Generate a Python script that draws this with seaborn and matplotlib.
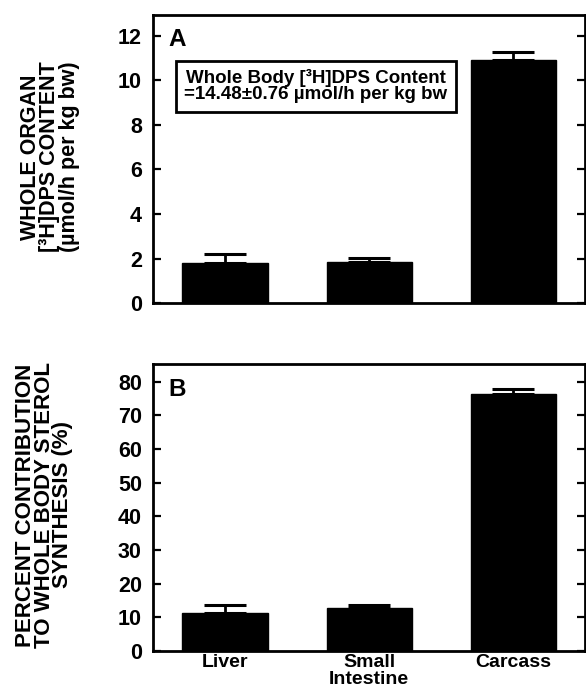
import matplotlib
matplotlib.use("Agg")
import matplotlib.pyplot as plt
import matplotlib.transforms as mtransforms
import seaborn as sns
import pandas as pd
import numpy as np

categories = ["Liver", "Small\nIntestine", "Carcass"]
content_mean = [1.82, 1.85, 10.9]
content_err = [0.38, 0.17, 0.38]
percent_mean = [11.2, 12.7, 76.2]
percent_err = [2.6, 1.0, 1.7]
yticks_a = [0, 2, 4, 6, 8, 10, 12]
yticks_b = [0, 10, 20, 30, 40, 50, 60, 70, 80]

sns.set_theme(style="ticks")
plt.rcParams["font.family"] = ["Liberation Sans", "DejaVu Sans"]
plt.rcParams["font.weight"] = "bold"
for k in ["text.color", "axes.labelcolor", "xtick.color", "ytick.color", "axes.edgecolor"]:
    plt.rcParams[k] = "black"

fig = plt.figure(figsize=(5.86, 7.0), dpi=100)
axA = fig.add_axes([0.261, 0.567, 0.738, 0.412])
axB = fig.add_axes([0.261, 0.070, 0.738, 0.410])

down = mtransforms.ScaledTranslation(0, -0.04, fig.dpi_scale_trans)

def panel(ax, means, errs, ylim, yticks, letter, letter_y, show_x):
    df = pd.DataFrame({"cat": categories, "val": means})
    sns.barplot(data=df, x="cat", y="val", ax=ax, color="black",
                width=0.59, saturation=1, edgecolor="black")
    x = np.arange(len(categories))
    ax.errorbar(x, means, yerr=[np.zeros(len(errs)), errs], fmt="none",
                ecolor="black", elinewidth=2, capsize=15, capthick=2.2)
    ax.set_xlim(-0.5, 2.5)
    ax.set_ylim(*ylim)
    ax.set_yticks(yticks)
    ax.set_yticklabels([str(t) for t in yticks], fontsize=15.5, fontweight="bold")
    for lab in ax.get_yticklabels():
        lab.set_transform(lab.get_transform() + down)
    ax.tick_params(axis="y", direction="in", length=6, width=1.6, right=True, pad=8)
    ax.set_xlabel("")
    ax.set_ylabel("")
    if show_x:
        ax.set_xticks(x)
        ax.set_xticklabels(categories, fontsize=14, fontweight="bold", linespacing=1.0)
        ax.tick_params(axis="x", length=0, pad=2)
    else:
        ax.set_xticks([])
    for s in ax.spines.values():
        s.set_linewidth(2)
        s.set_visible(True)
    ax.text(0.035, letter_y, letter, transform=ax.transAxes, fontsize=17.5,
            fontweight="bold", va="baseline", ha="left")

panel(axA, content_mean, content_err, (0, 12.95), yticks_a, "A", 0.892, False)
panel(axB, percent_mean, percent_err, (0, 85.2), yticks_b, "B", 0.888, True)

fig.text(50 / 586, 1 - 157 / 700, "WHOLE ORGAN\n[³H]DPS CONTENT\n(µmol/h per kg bw)",
         rotation=90, ha="center", va="center", multialignment="center",
         fontsize=15.5, fontweight="bold", linespacing=0.88)
fig.text(44 / 586, 1 - 505 / 700,
         "PERCENT CONTRIBUTION\nTO WHOLE BODY STEROL\nSYNTHESIS (%)",
         rotation=90, ha="center", va="center", multialignment="center",
         fontsize=16, fontweight="bold", linespacing=0.86)

axA.text(0.63, 9.74, "Whole Body [³H]DPS Content\n=14.48±0.76 µmol/h per kg bw",
         ha="center", va="center", fontsize=13.5, fontweight="bold", linespacing=0.95,
         bbox=dict(boxstyle="square,pad=0.45", facecolor="white", edgecolor="black",
                   linewidth=2))

fig.savefig("out.png", dpi=100)
